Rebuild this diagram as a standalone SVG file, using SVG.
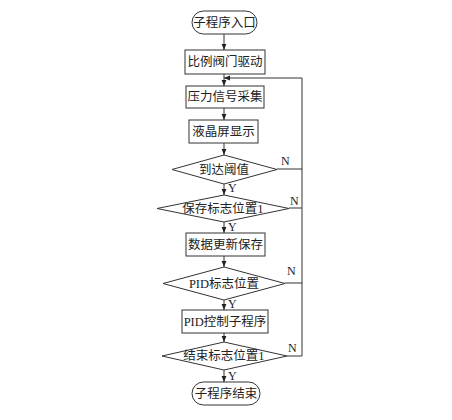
<svg xmlns="http://www.w3.org/2000/svg" width="452" height="420" viewBox="0 0 452 420">
<defs>
<marker id="ah" viewBox="0 0 10 10" refX="10" refY="5" markerWidth="6" markerHeight="6" orient="auto" markerUnits="userSpaceOnUse">
<path d="M0,1 L10,5 L0,9 Z" fill="#222"/>
</marker>
<style>
.n{fill:#fff;stroke:#333;stroke-width:1}
.t{font-family:"Liberation Serif","Noto Sans CJK SC",serif;font-size:12.5px;fill:#222;text-anchor:middle;dominant-baseline:central}
.l{font-family:"Liberation Serif","Noto Sans CJK SC",serif;font-size:12px;fill:#222}
.c{fill:none;stroke:#333;stroke-width:1}
</style>
</defs>
<rect width="452" height="420" fill="#fff"/>
<g id="connectors">
<line class="c" x1="224" y1="34" x2="224" y2="50" marker-end="url(#ah)"/>
<line class="c" x1="224" y1="74" x2="224" y2="86" marker-end="url(#ah)"/>
<line class="c" x1="224" y1="108" x2="224" y2="120" marker-end="url(#ah)"/>
<line class="c" x1="224" y1="143" x2="224" y2="155" marker-end="url(#ah)"/>
<line class="c" x1="224" y1="184" x2="224" y2="195" marker-end="url(#ah)"/>
<line class="c" x1="224" y1="222" x2="224" y2="233" marker-end="url(#ah)"/>
<line class="c" x1="224" y1="256" x2="224" y2="267" marker-end="url(#ah)"/>
<line class="c" x1="224" y1="300" x2="224" y2="310" marker-end="url(#ah)"/>
<line class="c" x1="224" y1="333" x2="224" y2="342" marker-end="url(#ah)"/>
<line class="c" x1="224" y1="370" x2="224" y2="382" marker-end="url(#ah)"/>
<polyline class="c" points="277,169 302,169"/>
<polyline class="c" points="289,208 302,208"/>
<polyline class="c" points="285,283 302,283"/>
<polyline class="c" points="287,356 302,356 302,78 224,78" marker-end="url(#ah)"/>
<text class="l" x="228" y="192">Y</text>
<text class="l" x="228" y="231">Y</text>
<text class="l" x="228" y="308">Y</text>
<text class="l" x="228" y="380">Y</text>
<text class="l" x="281" y="165">N</text>
<text class="l" x="290" y="205">N</text>
<text class="l" x="287" y="275">N</text>
<text class="l" x="288" y="352">N</text>
</g>
<g id="start">
<rect class="n" x="192" y="11" width="65" height="23" rx="11.5"/>
<text class="t" x="224.5" y="22.5">子程序入口</text>
</g>
<g id="valve">
<rect class="n" x="185" y="50" width="80" height="24"/>
<text class="t" x="225" y="62">比例阀门驱动</text>
</g>
<g id="pressure">
<rect class="n" x="186" y="86" width="78" height="22"/>
<text class="t" x="225" y="97">压力信号采集</text>
</g>
<g id="lcd">
<rect class="n" x="189" y="120" width="69" height="23"/>
<text class="t" x="223.5" y="131.5">液晶屏显示</text>
</g>
<g id="threshold">
<polygon class="n" points="224,155 277,169.5 224,184 172,169.5"/>
<text class="t" x="224" y="169.5">到达阈值</text>
</g>
<g id="saveflag">
<polygon class="n" points="224,195 289,208.5 224,222 157,208.5"/>
<text class="t" x="223" y="208.5">保存标志位置1</text>
</g>
<g id="save">
<rect class="n" x="186" y="233" width="79" height="23"/>
<text class="t" x="225.5" y="244.5">数据更新保存</text>
</g>
<g id="pidflag">
<polygon class="n" points="224,267 285,283.5 224,300 163,283.5"/>
<text class="t" x="224" y="283.5">PID标志位置</text>
</g>
<g id="pid">
<rect class="n" x="182" y="310" width="86" height="23"/>
<text class="t" x="225" y="321.5">PID控制子程序</text>
</g>
<g id="endflag">
<polygon class="n" points="224,342 287,356 224,370 162,356"/>
<text class="t" x="224" y="356">结束标志位置1</text>
</g>
<g id="end">
<rect class="n" x="192" y="382" width="68" height="23" rx="11.5"/>
<text class="t" x="226" y="393.5">子程序结束</text>
</g>
</svg>
